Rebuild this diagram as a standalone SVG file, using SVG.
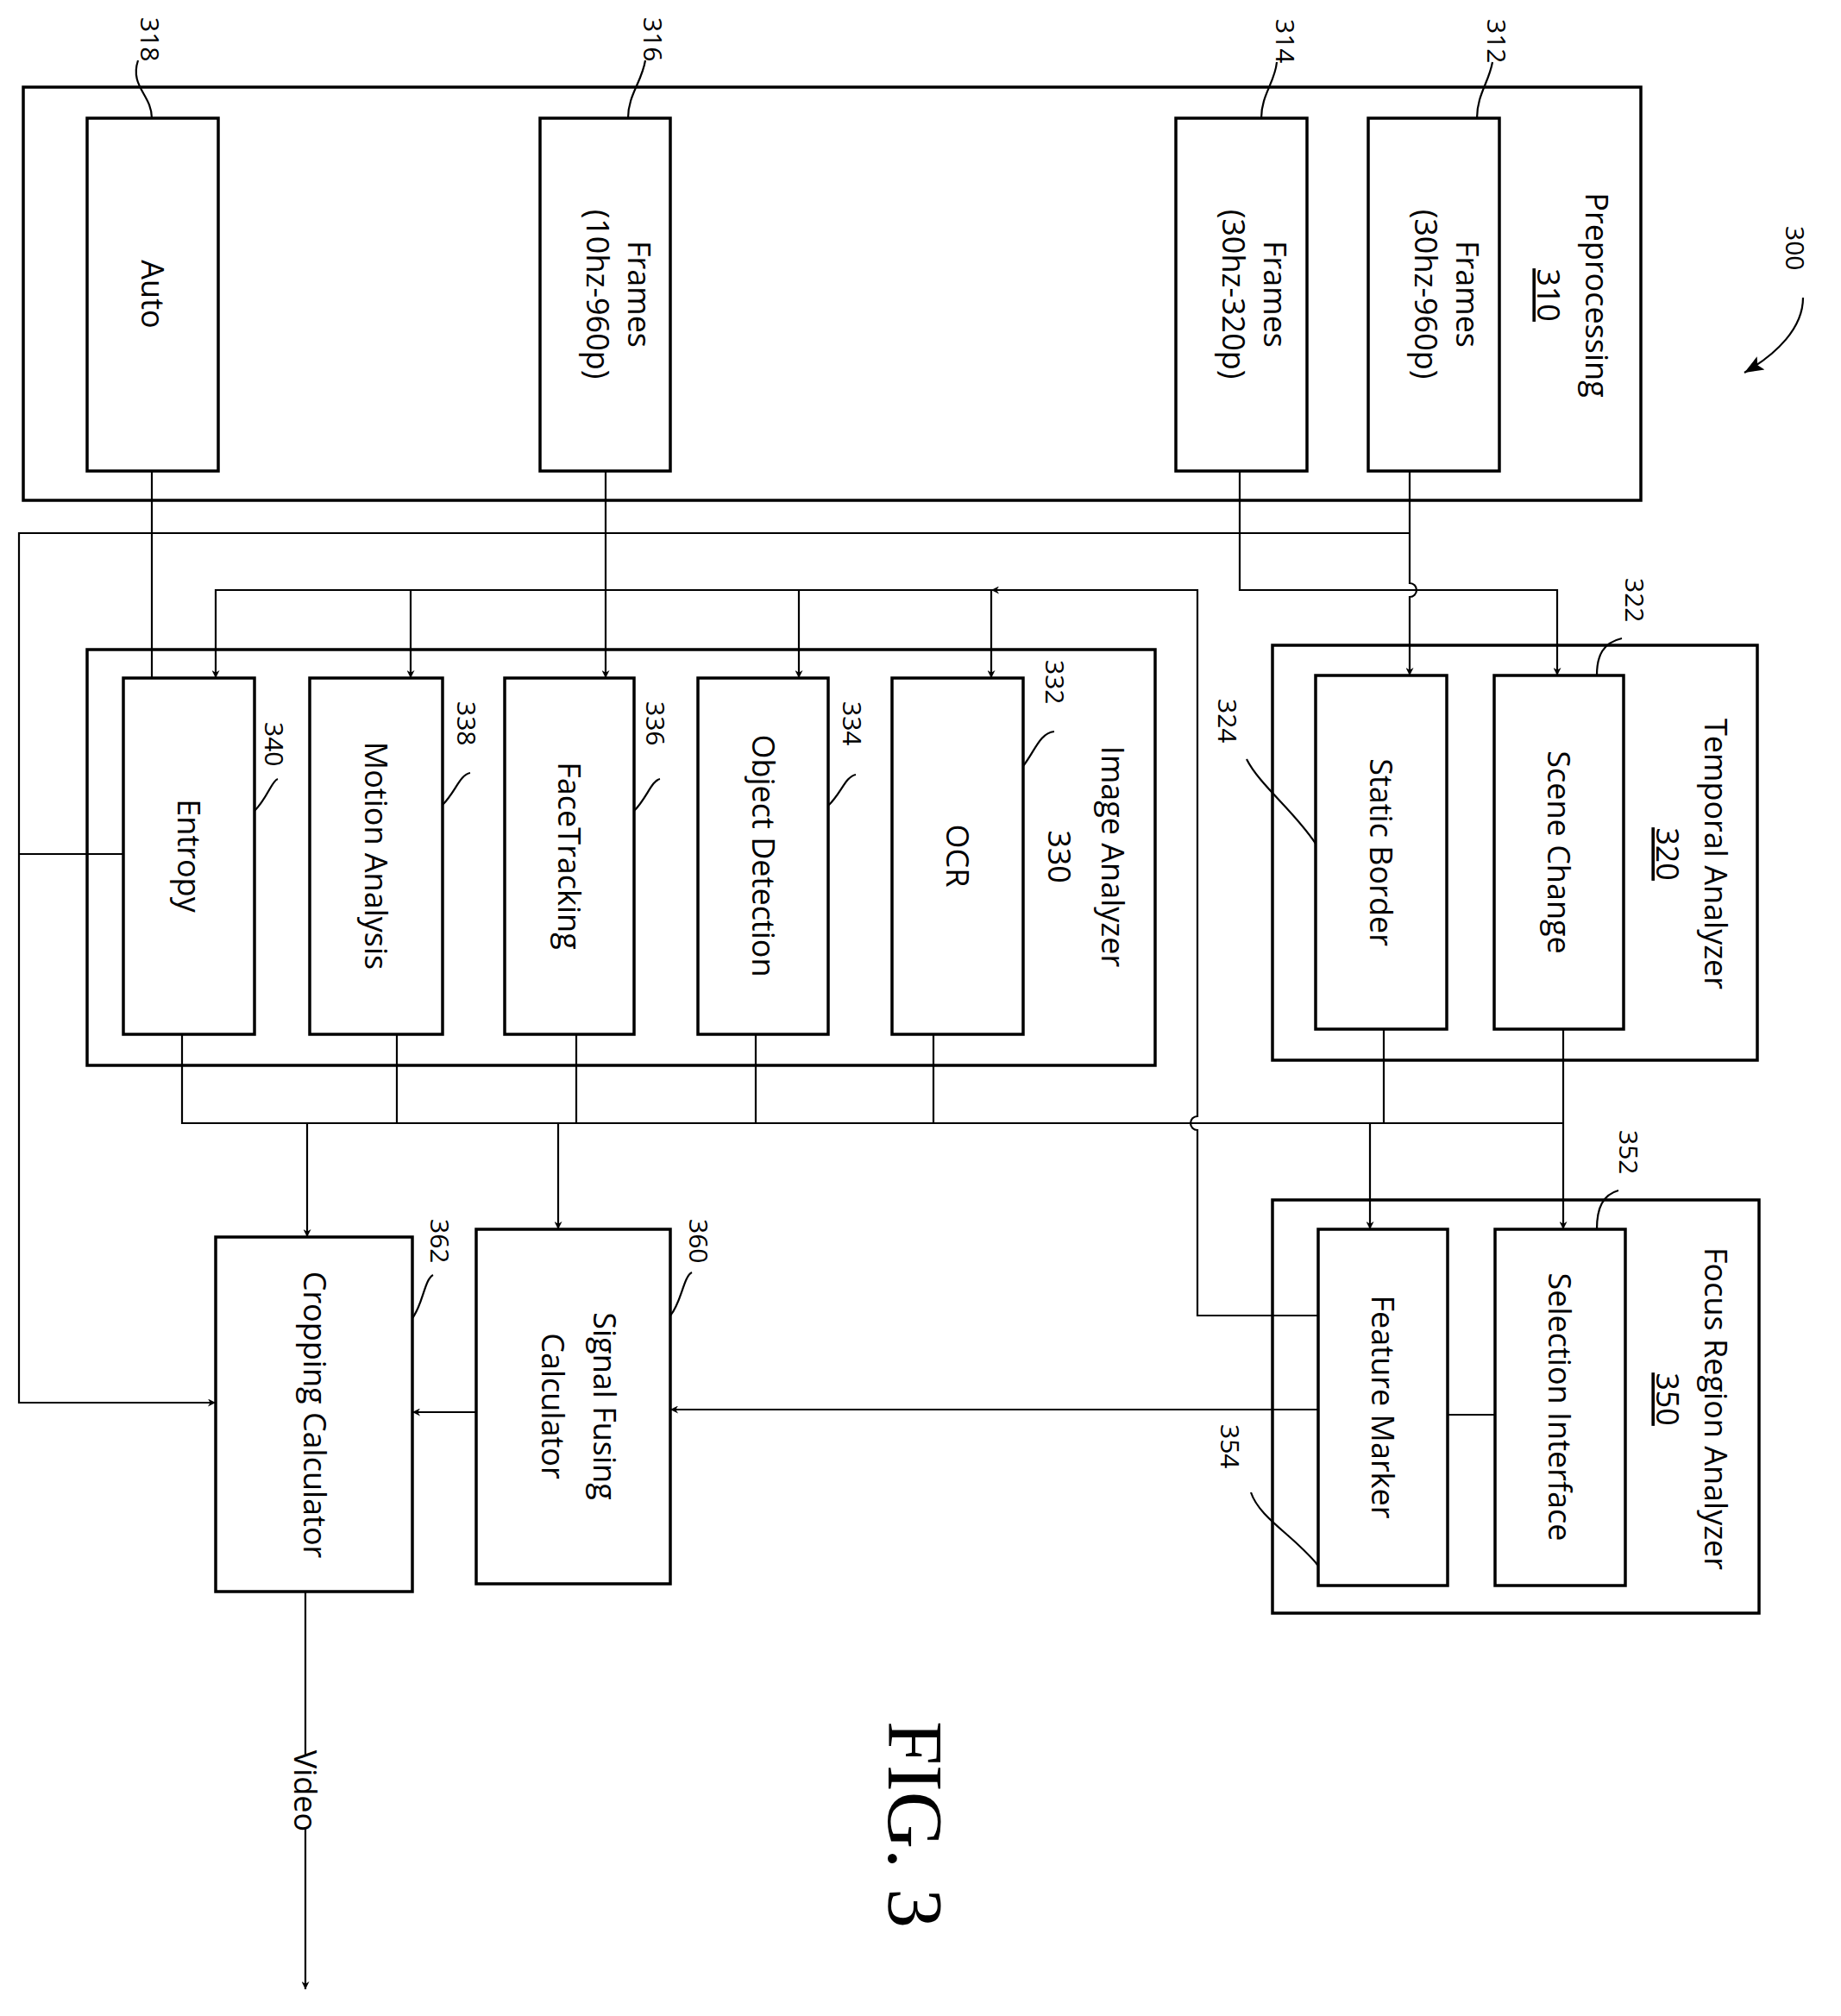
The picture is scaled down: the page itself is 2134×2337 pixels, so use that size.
<svg xmlns="http://www.w3.org/2000/svg" width="2134" height="2337" viewBox="0 0 2134 2337">
<defs>
<style>
.b{fill:#fff;stroke:#000;stroke-width:3.5}
.c{fill:none;stroke:#000;stroke-width:2.2}
.t{font-family:"Open Sans","DejaVu Sans",sans-serif;font-size:36px;fill:#000;text-anchor:middle}
.n{font-family:"Open Sans","DejaVu Sans",sans-serif;font-size:30px;fill:#000;text-anchor:start}
.u{text-decoration:underline}
</style>
<marker id="a" viewBox="0 0 10 10" refX="10" refY="5" markerWidth="9" markerHeight="9" markerUnits="userSpaceOnUse" orient="auto"><path d="M0,0L10,5L0,10L3,5z" fill="#000"/></marker>
<marker id="A" viewBox="0 0 10 10" refX="10" refY="5" markerWidth="22" markerHeight="22" markerUnits="userSpaceOnUse" orient="auto"><path d="M0,1L10,5L0,9L2,5z" fill="#000"/></marker>
</defs>
<rect width="2134" height="2337" fill="#fff"/>

<g id="pre"><rect class="b" x="27" y="101" width="1875" height="479"/>
<text class="t" transform="translate(1838,342) rotate(90)">Preprocessing</text>
<text class="t u" transform="translate(1782,342) rotate(90)">310</text></g>
<g id="n312"><rect class="b" x="1586" y="137" width="152" height="409"/>
<text class="t" transform="translate(1688,341) rotate(90)">Frames</text>
<text class="t" transform="translate(1640,341) rotate(90)">(30hz-960p)</text></g>
<g id="n314"><rect class="b" x="1363" y="137" width="152" height="409"/>
<text class="t" transform="translate(1465,341) rotate(90)">Frames</text>
<text class="t" transform="translate(1417,341) rotate(90)">(30hz-320p)</text></g>
<g id="n316"><rect class="b" x="626" y="137" width="151" height="409"/>
<text class="t" transform="translate(728,341) rotate(90)">Frames</text>
<text class="t" transform="translate(680,341) rotate(90)">(10hz-960p)</text></g>
<g id="n318"><rect class="b" x="101" y="137" width="152" height="409"/>
<text class="t" transform="translate(164,341) rotate(90)">Auto</text></g>

<g id="ia"><rect class="b" x="101" y="753" width="1238" height="482"/>
<text class="t" transform="translate(1277,993) rotate(90)">Image Analyzer</text>
<text class="t" transform="translate(1215,993) rotate(90)">330</text></g>
<g id="n340"><rect class="b" x="143" y="786" width="152" height="413"/><text class="t" transform="translate(206,992) rotate(90)">Entropy</text></g>
<g id="n338"><rect class="b" x="359" y="786" width="154" height="413"/><text class="t" transform="translate(423,992) rotate(90)">Motion Analysis</text></g>
<g id="n336"><rect class="b" x="585" y="786" width="150" height="413"/><text class="t" transform="translate(647,992) rotate(90)">FaceTracking</text></g>
<g id="n334"><rect class="b" x="809" y="786" width="151" height="413"/><text class="t" transform="translate(872,992) rotate(90)">Object Detection</text></g>
<g id="n332"><rect class="b" x="1034" y="786" width="152" height="413"/><text class="t" transform="translate(1097,992) rotate(90)">OCR</text></g>

<g id="ta"><rect class="b" x="1475" y="748" width="562" height="481"/>
<text class="t" transform="translate(1976,990) rotate(90)">Temporal Analyzer</text>
<text class="t u" transform="translate(1920,990) rotate(90)">320</text></g>
<g id="n324"><rect class="b" x="1525" y="783" width="152" height="410"/><text class="t" transform="translate(1588,988) rotate(90)">Static Border</text></g>
<g id="n322"><rect class="b" x="1732" y="783" width="150" height="410"/><text class="t" transform="translate(1794,988) rotate(90)">Scene Change</text></g>

<g id="fa"><rect class="b" x="1475" y="1391" width="564" height="479"/>
<text class="t" transform="translate(1976,1633) rotate(90)">Focus Region Analyzer</text>
<text class="t u" transform="translate(1920,1622) rotate(90)">350</text></g>
<g id="n354"><rect class="b" x="1528" y="1425" width="150" height="413"/><text class="t" transform="translate(1590,1631) rotate(90)">Feature Marker</text></g>
<g id="n352"><rect class="b" x="1733" y="1425" width="151" height="413"/><text class="t" transform="translate(1795,1631) rotate(90)">Selection Interface</text></g>

<g id="n360"><rect class="b" x="552" y="1425" width="225" height="411"/>
<text class="t" transform="translate(688,1630) rotate(90)">Signal Fusing</text>
<text class="t" transform="translate(628,1630) rotate(90)">Calculator</text></g>
<g id="n362"><rect class="b" x="250" y="1434" width="228" height="411"/>
<text class="t" transform="translate(352,1640) rotate(90)">Cropping Calculator</text></g>

<g id="labels">
<text class="n" transform="translate(163,20) rotate(90)">318</text>
<text class="n" transform="translate(746,20) rotate(90)">316</text>
<text class="n" transform="translate(1479,22) rotate(90)">314</text>
<text class="n" transform="translate(1724,22) rotate(90)">312</text>
<text class="n" transform="translate(2070,262) rotate(90)">300</text>
<text class="n" transform="translate(1212,765) rotate(90)">332</text>
<text class="n" transform="translate(977,813) rotate(90)">334</text>
<text class="n" transform="translate(749,813) rotate(90)">336</text>
<text class="n" transform="translate(530,813) rotate(90)">338</text>
<text class="n" transform="translate(307,837) rotate(90)">340</text>
<text class="n" transform="translate(1884,670) rotate(90)">322</text>
<text class="n" transform="translate(1412,810) rotate(90)">324</text>
<text class="n" transform="translate(1877,1310) rotate(90)">352</text>
<text class="n" transform="translate(1415,1651) rotate(90)">354</text>
<text class="n" transform="translate(799,1413) rotate(90)">360</text>
<text class="n" transform="translate(499,1413) rotate(90)">362</text>
<text class="t" transform="translate(341,2076) rotate(90)">Video</text>
<text transform="translate(1030,2115) rotate(90)" style="font-family:'Liberation Serif',serif;font-size:92px;text-anchor:middle">FIG. 3</text>
</g>

<g id="connectors">
<path class="c" d="M176,137C176,110 150,100 160,70"/>
<path class="c" d="M728,137C728,110 744,95 748,70"/>
<path class="c" d="M1462,137C1462,110 1478,95 1480,72"/>
<path class="c" d="M1712,137C1712,110 1726,95 1730,72"/>
<path class="c" d="M2090,345C2090,380 2060,410 2022,432" marker-end="url(#A)"/>
<path class="c" d="M1186,888C1200,870 1205,850 1222,848"/>
<path class="c" d="M960,934C975,920 980,900 992,898"/>
<path class="c" d="M735,940C750,925 755,905 765,903"/>
<path class="c" d="M513,933C528,918 533,898 545,896"/>
<path class="c" d="M295,940C310,925 315,905 322,903"/>
<path class="c" d="M1851,783C1851,760 1858,745 1880,740"/>
<path class="c" d="M1525,978C1500,940 1460,910 1445,880"/>
<path class="c" d="M1851,1425C1851,1400 1858,1385 1876,1380"/>
<path class="c" d="M1528,1815C1500,1780 1460,1760 1450,1730"/>
<path class="c" d="M777,1525C790,1510 792,1480 802,1475"/>
<path class="c" d="M478,1528C490,1513 492,1483 502,1478"/>

<path class="c" d="M176,546V786"/>
<path class="c" d="M702,546V786" marker-end="url(#a)"/>
<path class="c" d="M1634,546V676A8,8 0 0 1 1634,692V783" marker-end="url(#a)"/>
<path class="c" d="M1634,618H22V1626H250" marker-end="url(#a)"/>
<path class="c" d="M1437,546V684H1805V783" marker-end="url(#a)"/>
<path class="c" d="M1528,1525H1388V1310A8,8 0 0 1 1388,1294V684H1149" marker-end="url(#a)"/>
<path class="c" d="M1149,684H250V786" marker-end="url(#a)"/>
<path class="c" d="M476,684V786" marker-end="url(#a)"/>
<path class="c" d="M926,684V786" marker-end="url(#a)"/>
<path class="c" d="M1149,684V786" marker-end="url(#a)"/>
<path class="c" d="M211,1199V1302H1812"/>
<path class="c" d="M460,1199V1302M668,1199V1302M876,1199V1302M1082,1199V1302"/>
<path class="c" d="M1604,1193V1302"/>
<path class="c" d="M1812,1193V1425" marker-end="url(#a)"/>
<path class="c" d="M1588,1302V1425" marker-end="url(#a)"/>
<path class="c" d="M356,1302V1434" marker-end="url(#a)"/>
<path class="c" d="M647,1302V1425" marker-end="url(#a)"/>
<path class="c" d="M143,990H22"/>
<path class="c" d="M1528,1634H777" marker-end="url(#a)"/>
<path class="c" d="M1678,1640H1733"/>
<path class="c" d="M552,1637H478" marker-end="url(#a)"/>
<path class="c" d="M354,1845V2035M354,2118V2306" marker-end="url(#a)"/>
</g>
</svg>
